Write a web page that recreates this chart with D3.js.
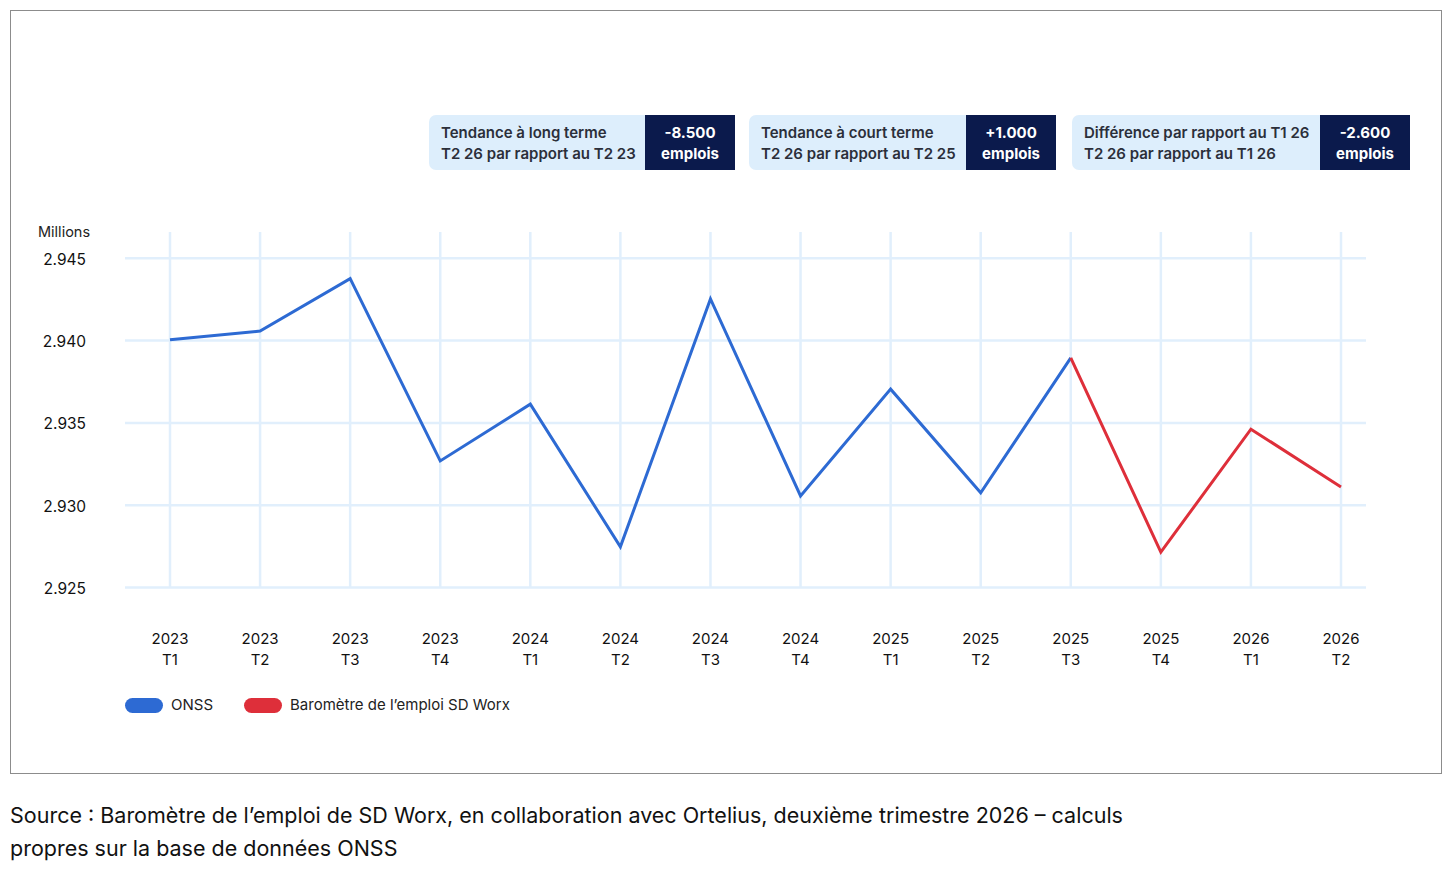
<!DOCTYPE html>
<html>
<head>
<meta charset="utf-8" />
<title>Baromètre de l'emploi</title>
<script src="https://d3js.org/d3.v7.min.js"></script>
<style>
  body { margin: 0; background: #fff; font-family: Inter, "Noto Sans", sans-serif; }
  #chart { position: absolute; left: 0; top: 0; }
</style>
</head>
<body>
<svg id="chart" width="1454" height="872"></svg>
<script>
// categories
var years = ["2023","2023","2023","2023","2024","2024","2024","2024","2025","2025","2025","2025","2026","2026"];
var quarters = ["T1","T2","T3","T4","T1","T2","T3","T4","T1","T2","T3","T4","T1","T2"];

// ONSS series (millions), 2023 T1 -> 2025 T3
var onss = [2.94005, 2.94058, 2.94376, 2.93269, 2.93614, 2.92747, 2.94253, 2.93056, 2.93705, 2.93075, 2.93895];
// SD Worx barometer, 2025 T3 -> 2026 T2
var barometre = [2.93895, 2.92715, 2.93462, 2.93111];
var barometreStart = 10;

var yTicks = [2.925, 2.930, 2.935, 2.940, 2.945];

// summary boxes
var boxLabels = [
  ["Tendance à long terme", "T2 26 par rapport au T2 23"],
  ["Tendance à court terme", "T2 26 par rapport au T2 25"],
  ["Différence par rapport au T1 26", "T2 26 par rapport au T1 26"]
];
var boxValues = ["-8.500", "+1.000", "-2.600"];

var legendNames = ["ONSS", "Baromètre de l’emploi SD Worx"];
var colors = ["#2d6ad3", "#de2f3a"];

var svg = d3.select("#chart");

// outer frame
svg.append("rect")
  .attr("x", 10.5).attr("y", 10.5)
  .attr("width", 1431).attr("height", 763)
  .attr("fill", "none").attr("stroke", "#8c8c8c").attr("stroke-width", 1);

var keys = years.map(function(y, i) { return i; });
var x = d3.scalePoint().domain(keys).range([170, 1341]);
var y = d3.scaleLinear().domain([2.925, 2.945]).range([587.5, 258.3]);

// grid
var grid = svg.append("g");
grid.selectAll("line.h").data(yTicks).enter().append("line")
  .attr("x1", 125).attr("x2", 1366)
  .attr("y1", function(d) { return y(d); })
  .attr("y2", function(d) { return y(d); })
  .attr("stroke", "#e1effc").attr("stroke-width", 2.5);
grid.selectAll("line.v").data(keys).enter().append("line")
  .attr("x1", function(d) { return x(d); })
  .attr("x2", function(d) { return x(d); })
  .attr("y1", 232).attr("y2", 587.5)
  .attr("stroke", "#e1effc").attr("stroke-width", 2.5);

// y axis labels
svg.append("text").attr("x", 38).attr("y", 237)
  .attr("font-size", 14.5).attr("fill", "#222").text("Millions");
svg.selectAll("text.ytick").data(yTicks).enter().append("text")
  .attr("x", 86).attr("y", function(d) { return y(d) + 6.5; })
  .attr("text-anchor", "end").attr("font-size", 15.5).attr("fill", "#111")
  .text(function(d) { return d3.format(".3f")(d); });

// x axis labels
var xl = svg.selectAll("text.xtick").data(keys).enter().append("text")
  .attr("text-anchor", "middle").attr("font-size", 15).attr("fill", "#111");
xl.append("tspan").attr("x", function(d) { return x(d); }).attr("y", 644)
  .text(function(d) { return years[d]; });
xl.append("tspan").attr("x", function(d) { return x(d); }).attr("y", 665)
  .text(function(d) { return quarters[d]; });

// lines
var line = d3.line()
  .x(function(d) { return x(d.i); })
  .y(function(d) { return y(d.v); });

svg.append("path")
  .datum(onss.map(function(v, i) { return { i: i, v: v }; }))
  .attr("d", line).attr("fill", "none")
  .attr("stroke", colors[0]).attr("stroke-width", 3);

svg.append("path")
  .datum(barometre.map(function(v, i) { return { i: i + barometreStart, v: v }; }))
  .attr("d", line).attr("fill", "none")
  .attr("stroke", colors[1]).attr("stroke-width", 3);

// legend
var legX = [125, 244];
legendNames.forEach(function(name, i) {
  svg.append("rect").attr("x", legX[i]).attr("y", 698)
    .attr("width", 38).attr("height", 15).attr("rx", 7.5)
    .attr("fill", colors[i]);
  svg.append("text").attr("x", legX[i] + 46).attr("y", 710)
    .attr("font-size", 15).attr("fill", "#222").text(name);
});

// summary boxes
var boxX = [429, 749, 1072];
var boxLightW = [216, 217, 248];
var boxDarkW = 90;
boxLabels.forEach(function(lbl, i) {
  var g = svg.append("g").attr("transform", "translate(" + boxX[i] + ",115)");
  g.append("rect").attr("width", boxLightW[i] + 10).attr("height", 55)
    .attr("rx", 7).attr("fill", "#ddeefc");
  g.append("rect").attr("x", boxLightW[i]).attr("width", boxDarkW).attr("height", 55)
    .attr("fill", "#0b1a4c");
  g.append("text").attr("x", 12).attr("y", 23)
    .attr("font-size", 15).attr("font-weight", 600).attr("fill", "#2b2f3a").text(lbl[0]);
  g.append("text").attr("x", 12).attr("y", 44)
    .attr("font-size", 15).attr("font-weight", 600).attr("fill", "#2b2f3a").text(lbl[1]);
  g.append("text").attr("x", boxLightW[i] + boxDarkW / 2).attr("y", 23)
    .attr("text-anchor", "middle").attr("font-size", 15).attr("font-weight", 700)
    .attr("fill", "#fff").text(boxValues[i]);
  g.append("text").attr("x", boxLightW[i] + boxDarkW / 2).attr("y", 44)
    .attr("text-anchor", "middle").attr("font-size", 15).attr("font-weight", 700)
    .attr("fill", "#fff").text("emplois");
});

// source
svg.append("text").attr("x", 10).attr("y", 823)
  .attr("font-size", 21.5).attr("fill", "#111")
  .text("Source : Baromètre de l’emploi de SD Worx, en collaboration avec Ortelius, deuxième trimestre 2026 – calculs");
svg.append("text").attr("x", 10).attr("y", 856)
  .attr("font-size", 21.5).attr("fill", "#111")
  .text("propres sur la base de données ONSS");
</script>
</body>
</html>
